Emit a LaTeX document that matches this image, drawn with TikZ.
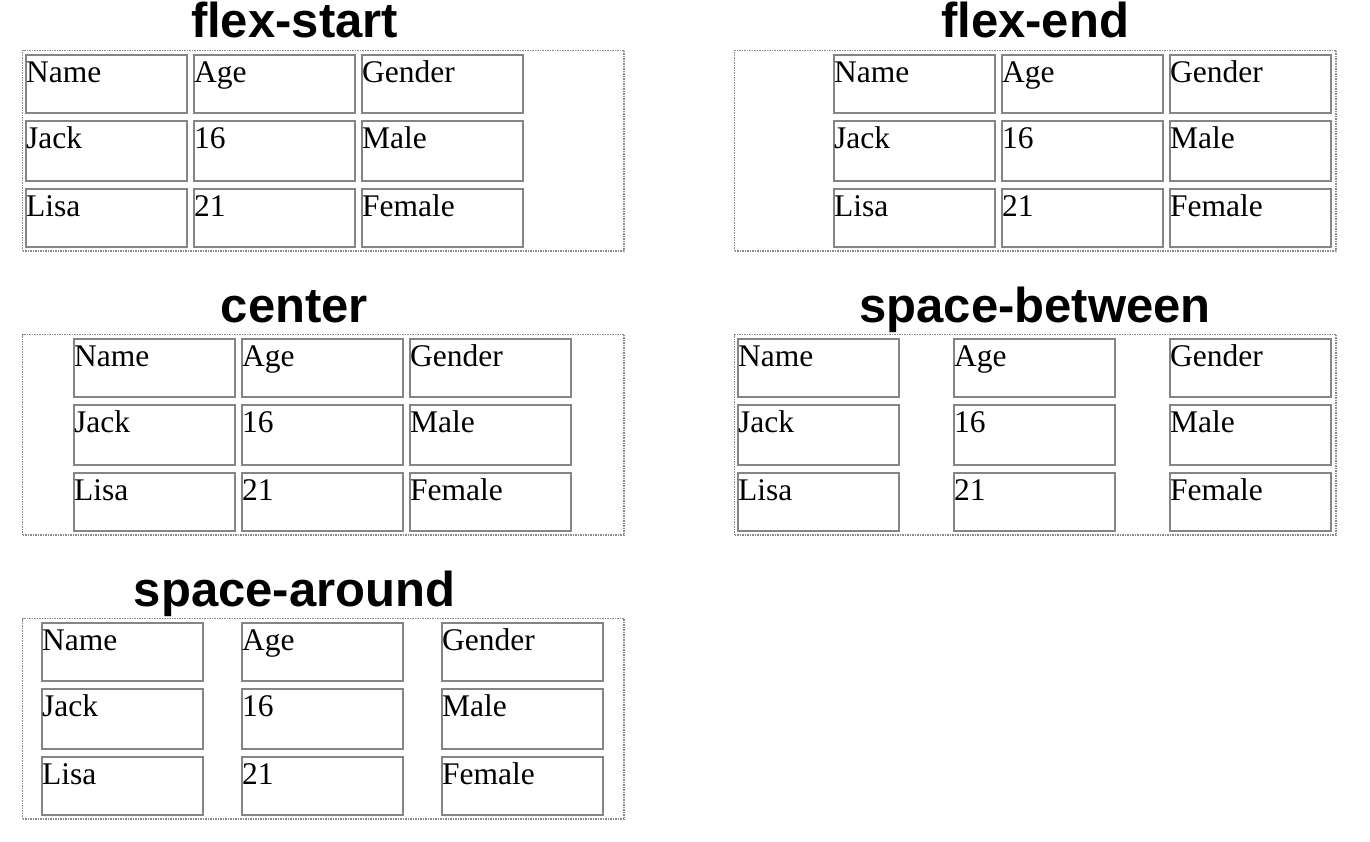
\documentclass[tikz,border=0pt]{standalone}
\usepackage{fontspec}
\setmainfont{Liberation Serif}
\newfontfamily\titlefont{Liberation Sans}
\definecolor{cellgray}{HTML}{858585}
\definecolor{dotgray}{HTML}{8A8A8A}
\tikzset{
  cellbox/.style={draw=cellgray, line width=2pt, inner sep=0pt, anchor=north west},
  panelbox/.style={draw=dotgray, line width=1.5pt, dash pattern=on 1.5pt off 1pt, inner sep=0pt, anchor=north west, minimum width=601.5pt, minimum height=200.5pt},
  celltext/.style={inner sep=0pt, anchor=base west, font=\fontsize{31.5}{36}\selectfont},
  paneltitle/.style={inner sep=0pt, anchor=base, font=\titlefont\bfseries\fontsize{49}{56}\selectfont}
}
\newcommand\drawpanel[8]{%
  \node[paneltitle] (#1title) at (#5,#3-11) {#4};
  \node[panelbox] (#1box) at (#2+0.75,#3+0.75) {};
  \foreach \cx/\ta/\tb/\tc [count=\ci] in {#6/Name/Jack/Lisa, #7/Age/16/21, #8/Gender/Male/Female}{
    \foreach \ry/\rh/\txt [count=\ri] in {4/60/\ta, 70/62/\tb, 138/60/\tc}{
      \node[cellbox, minimum width=161pt, minimum height={(\rh-2)*1pt}] (#1c\ci\ri) at (\cx+1,#3+\ry+1) {};
      \node[celltext] (#1t\ci\ri) at (\cx+2,#3+\ry+29.5) {\txt};
    }
  }
}
\begin{document}
\begin{tikzpicture}[x=1pt,y=-1pt]
\useasboundingbox (0,0) rectangle (1370,842);
\drawpanel{a}{21}{49}{flex-start}{294.5}{24}{192}{360}
\drawpanel{b}{733}{49}{flex-end}{1035}{832}{1000}{1168}
\drawpanel{c}{21}{333}{center}{294.5}{72}{240}{408}
\drawpanel{d}{733}{333}{space-between}{1035}{736}{952}{1168}
\drawpanel{e}{21}{617}{space-around}{294.5}{40}{240}{440}
\end{tikzpicture}
\end{document}
